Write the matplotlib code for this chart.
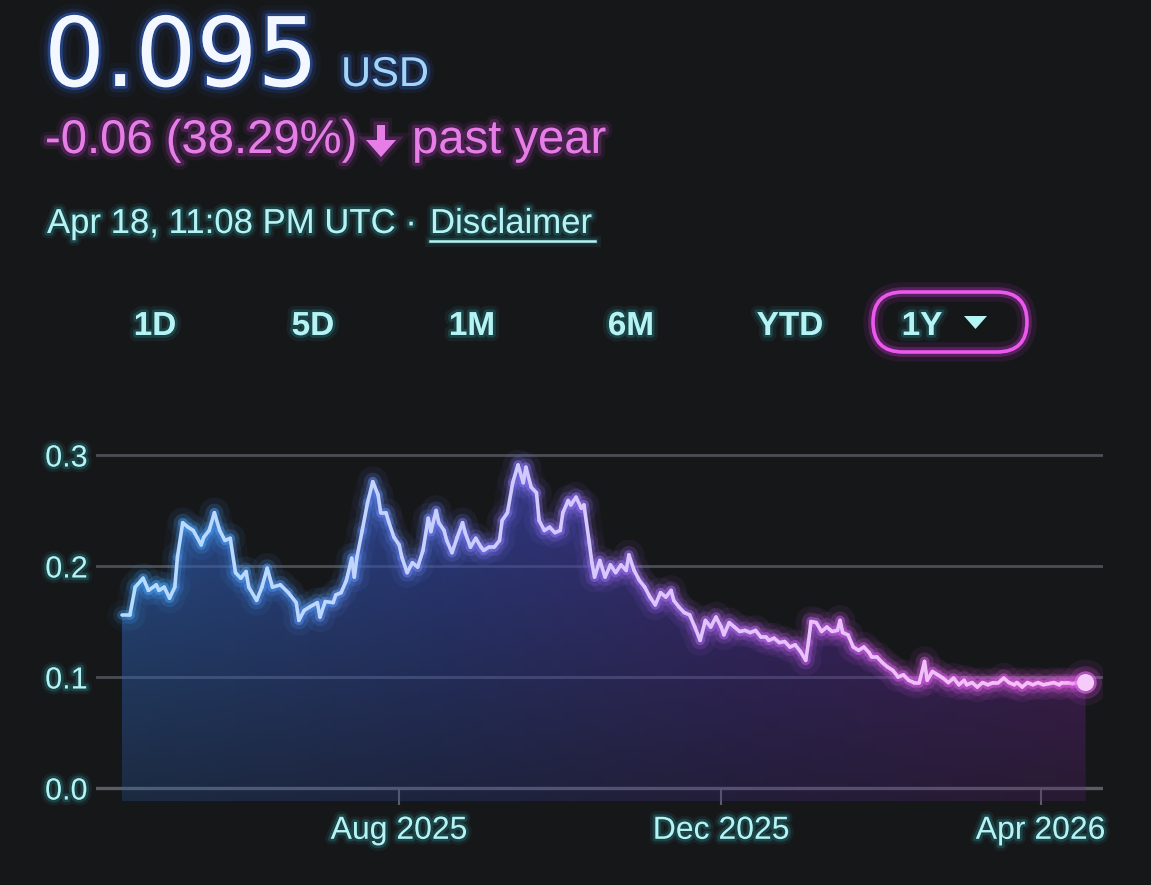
import numpy as np
import matplotlib
matplotlib.use('Agg')
import matplotlib.pyplot as plt
import matplotlib.dates as mdates
import matplotlib.patheffects as pe
from matplotlib.collections import LineCollection
from matplotlib.colors import LinearSegmentedColormap
from matplotlib.patches import FancyBboxPatch, Polygon

# price history (one year, USD)
dates = [
    '2025-04-18', '2025-04-21', '2025-04-23', '2025-04-26', '2025-04-28', '2025-05-01', '2025-05-02',
    '2025-05-04', '2025-05-06', '2025-05-08', '2025-05-09', '2025-05-11', '2025-05-13', '2025-05-15',
    '2025-05-18', '2025-05-19', '2025-05-21', '2025-05-23', '2025-05-25', '2025-05-27', '2025-05-29',
    '2025-05-31', '2025-06-02', '2025-06-04', '2025-06-05', '2025-06-08', '2025-06-10', '2025-06-12',
    '2025-06-14', '2025-06-17', '2025-06-20', '2025-06-23', '2025-06-24', '2025-06-26', '2025-06-28',
    '2025-07-01', '2025-07-02', '2025-07-04', '2025-07-07', '2025-07-08', '2025-07-10', '2025-07-12',
    '2025-07-14', '2025-07-15', '2025-07-16', '2025-07-18', '2025-07-20', '2025-07-22', '2025-07-24',
    '2025-07-25', '2025-07-27', '2025-07-28', '2025-07-30', '2025-08-01', '2025-08-02', '2025-08-04',
    '2025-08-06', '2025-08-08', '2025-08-10', '2025-08-12', '2025-08-13', '2025-08-15', '2025-08-16',
    '2025-08-18', '2025-08-19', '2025-08-21', '2025-08-23', '2025-08-25', '2025-08-26', '2025-08-28',
    '2025-08-30', '2025-09-01', '2025-09-02', '2025-09-04', '2025-09-06', '2025-09-08', '2025-09-09',
    '2025-09-11', '2025-09-13', '2025-09-15', '2025-09-17', '2025-09-18', '2025-09-20', '2025-09-22',
    '2025-09-23', '2025-09-25', '2025-09-27', '2025-09-29', '2025-10-01', '2025-10-02', '2025-10-04',
    '2025-10-05', '2025-10-07', '2025-10-09', '2025-10-10', '2025-10-12', '2025-10-13', '2025-10-14',
    '2025-10-16', '2025-10-18', '2025-10-20', '2025-10-22', '2025-10-24', '2025-10-26', '2025-10-27',
    '2025-10-29', '2025-10-31', '2025-11-02', '2025-11-04', '2025-11-06', '2025-11-08', '2025-11-10',
    '2025-11-12', '2025-11-13', '2025-11-15', '2025-11-17', '2025-11-19', '2025-11-21', '2025-11-23',
    '2025-11-25', '2025-11-27', '2025-11-29', '2025-12-01', '2025-12-02', '2025-12-04', '2025-12-06',
    '2025-12-08', '2025-12-10', '2025-12-12', '2025-12-14', '2025-12-16', '2025-12-18', '2025-12-19',
    '2025-12-21', '2025-12-23', '2025-12-25', '2025-12-27', '2025-12-29', '2025-12-31', '2026-01-02',
    '2026-01-03', '2026-01-04', '2026-01-06', '2026-01-08', '2026-01-10', '2026-01-12', '2026-01-14',
    '2026-01-15', '2026-01-16', '2026-01-18', '2026-01-20', '2026-01-22', '2026-01-24', '2026-01-26',
    '2026-01-27', '2026-01-29', '2026-01-31', '2026-02-02', '2026-02-04', '2026-02-06', '2026-02-08',
    '2026-02-10', '2026-02-12', '2026-02-14', '2026-02-16', '2026-02-17', '2026-02-19', '2026-02-21',
    '2026-02-23', '2026-02-25', '2026-02-27', '2026-03-01', '2026-03-03', '2026-03-04', '2026-03-06',
    '2026-03-08', '2026-03-10', '2026-03-12', '2026-03-14', '2026-03-16', '2026-03-18', '2026-03-20',
    '2026-03-22', '2026-03-23', '2026-03-25', '2026-03-27', '2026-03-29', '2026-03-31', '2026-04-02',
    '2026-04-04', '2026-04-06', '2026-04-08', '2026-04-09', '2026-04-11', '2026-04-13', '2026-04-15',
    '2026-04-18',
]
prices = [
    0.156, 0.156, 0.181, 0.189, 0.178, 0.183, 0.178,
    0.181, 0.171, 0.181, 0.208, 0.239, 0.235, 0.232,
    0.219, 0.226, 0.232, 0.248, 0.232, 0.223, 0.225,
    0.194, 0.189, 0.195, 0.181, 0.169, 0.181, 0.198,
    0.181, 0.183, 0.176, 0.167, 0.151, 0.160, 0.163,
    0.167, 0.154, 0.168, 0.167, 0.174, 0.176, 0.187,
    0.207, 0.190, 0.208, 0.232, 0.257, 0.276, 0.264,
    0.248, 0.248, 0.240, 0.226, 0.219, 0.208, 0.194,
    0.203, 0.199, 0.214, 0.243, 0.231, 0.250, 0.239,
    0.232, 0.223, 0.212, 0.226, 0.239, 0.230, 0.217,
    0.225, 0.217, 0.214, 0.217, 0.217, 0.223, 0.241,
    0.248, 0.275, 0.291, 0.275, 0.289, 0.271, 0.266,
    0.241, 0.232, 0.235, 0.230, 0.232, 0.248, 0.259,
    0.255, 0.262, 0.252, 0.255, 0.221, 0.203, 0.190,
    0.205, 0.190, 0.201, 0.194, 0.201, 0.196, 0.210,
    0.196, 0.187, 0.181, 0.172, 0.165, 0.176, 0.172,
    0.178, 0.169, 0.163, 0.158, 0.156, 0.145, 0.133,
    0.151, 0.145, 0.154, 0.145, 0.138, 0.149, 0.145,
    0.141, 0.142, 0.140, 0.142, 0.136, 0.136, 0.133,
    0.135, 0.131, 0.132, 0.127, 0.129, 0.123, 0.115,
    0.131, 0.150, 0.149, 0.141, 0.145, 0.141, 0.142,
    0.151, 0.140, 0.138, 0.127, 0.124, 0.127, 0.122,
    0.118, 0.118, 0.113, 0.109, 0.106, 0.100, 0.102,
    0.097, 0.095, 0.095, 0.114, 0.097, 0.105, 0.102,
    0.099, 0.095, 0.099, 0.093, 0.097, 0.093, 0.095,
    0.091, 0.095, 0.093, 0.095, 0.095, 0.099, 0.095,
    0.093, 0.095, 0.091, 0.095, 0.093, 0.095, 0.093,
    0.094, 0.095, 0.093, 0.095, 0.095, 0.094, 0.095,
    0.095,
]

y_ticks = [0.0, 0.1, 0.2, 0.3]
y_labels = ['0.0', '0.1', '0.2', '0.3']
x_tick_dates = ['2025-08-01', '2025-12-01', '2026-04-01']
x_labels = ['Aug 2025', 'Dec 2025', 'Apr 2026']
ranges = ['1D', '5D', '1M', '6M', 'YTD', '1Y']

BG = '#161719'
CYAN = '#b6f3f5'
PINK = '#e77ee8'
GRID = '#4a4e55'

plt.rcParams['font.family'] = ['Liberation Sans', 'DejaVu Sans']


def glow(color, widths=(10, 5), alphas=(0.08, 0.2)):
    fx = [pe.Stroke(linewidth=w, foreground=color, alpha=a) for w, a in zip(widths, alphas)]
    return fx + [pe.Normal()]


fig = plt.figure(figsize=(11.51, 8.85), dpi=100, facecolor=BG)

# header drawn in pixel coordinates
bg = fig.add_axes([0, 0, 1, 1])
bg.set_xlim(0, 1151)
bg.set_ylim(885, 0)
bg.axis('off')

bg.text(44, 86, '0.095', fontsize=69, color='#f3f7ff', va='baseline', family='DejaVu Sans',
        path_effects=glow('#3a78ff', (16, 9, 4), (0.05, 0.12, 0.35)))
bg.text(341, 86, 'USD', fontsize=30, color='#a3d6f6', va='baseline',
        path_effects=glow('#3a7cff', (10, 5), (0.08, 0.22)))

pink_fx = glow('#d448e4', (10, 5), (0.08, 0.2))
bg.text(45, 153, '-0.06 (38.29%)', fontsize=34, color=PINK, va='baseline',
        path_effects=pink_fx)
bg.add_patch(Polygon([[377, 125], [385, 125], [385, 140], [396, 140], [381, 157],
                      [366, 140], [377, 140]], closed=True, facecolor=PINK,
                     edgecolor='none', path_effects=pink_fx))
bg.text(412, 153, 'past year', fontsize=34, color=PINK, va='baseline',
        path_effects=pink_fx)

cyan_fx = glow('#30c0c8', (8, 4), (0.08, 0.2))
bg.text(47, 233, 'Apr 18, 11:08 PM UTC ·', fontsize=25, color=CYAN, va='baseline',
        path_effects=cyan_fx)
bg.text(430, 233, 'Disclaimer', fontsize=25, color=CYAN, va='baseline',
        path_effects=cyan_fx)
bg.plot([430, 595], [241, 241], color=CYAN, lw=1.8, path_effects=cyan_fx)

# range selector
range_x = [155, 313, 472, 631, 790, 922]
for lab, xc in zip(ranges, range_x):
    bg.text(xc, 335, lab, fontsize=24, fontweight='bold', color=CYAN, ha='center',
            va='baseline', path_effects=glow('#30c0c8', (9, 4), (0.08, 0.2)))
bg.add_patch(Polygon([[964, 316], [987, 316], [975.5, 329]], closed=True,
                     facecolor=CYAN, edgecolor='none'))
pill = FancyBboxPatch((873, 292), 154, 60, boxstyle='round,pad=0,rounding_size=30',
                      facecolor='none', edgecolor='#ec58ee', lw=2.6,
                      path_effects=[pe.Stroke(linewidth=14, foreground='#d030e0', alpha=0.10),
                                    pe.Stroke(linewidth=7, foreground='#e040e8', alpha=0.25),
                                    pe.Normal()])
bg.add_patch(pill)

# chart
ax = fig.add_axes([96 / 1151, (885 - 810) / 885, (1103 - 96) / 1151, 370 / 885])
ax.patch.set_alpha(0)

xnum = mdates.date2num(np.array(dates, dtype='datetime64[D]'))
y = np.array(prices)

for t in y_ticks:
    ax.axhline(t, color='#585c63' if t == 0 else GRID, lw=2.4 if t == 0 else 2, zorder=1)

# gradient area under the line
poly = ax.fill_between(xnum, y, -0.012, facecolor='none', edgecolor='none')
fill_cmap = LinearSegmentedColormap.from_list('fill', ['#2e62b4', '#3448a6', '#4c3096', '#60247e'])
nx, ny = 512, 256
img = np.zeros((ny, nx, 4))
img[..., :3] = fill_cmap(np.linspace(0, 1, nx))[None, :, :3]
img[..., 3] = np.linspace(0.75, 0.26, ny)[:, None]
im = ax.imshow(img, extent=[xnum[0], xnum[-1], -0.012, y.max()], origin='upper',
               aspect='auto', zorder=2, interpolation='bilinear')
im.set_clip_path(poly.get_paths()[0], transform=ax.transData)

# glowing gradient line
pts = np.column_stack([xnum, y])
segs = np.stack([pts[:-1], pts[1:]], axis=1)
frac = (xnum[:-1] - xnum[0]) / (xnum[-1] - xnum[0])
line_cmap = LinearSegmentedColormap.from_list(
    'line', ['#48a8ff', '#5a9cff', '#8a7cff', '#b46cf8', '#d862ee', '#ee5eea'])
cols = line_cmap(frac)
for lw, a in [(22, 0.04), (13, 0.09), (7, 0.26)]:
    c = cols.copy()
    c[:, 3] = a
    ax.add_collection(LineCollection(segs, colors=c, linewidths=lw, capstyle='round',
                                     joinstyle='round', zorder=4))
core = cols.copy()
core[:, :3] = core[:, :3] * 0.4 + 0.6
ax.add_collection(LineCollection(segs, colors=core, linewidths=2.6, capstyle='round',
                                 joinstyle='round', zorder=5))

# end point
for s, c, a in [(1100, '#e050f0', 0.08), (560, '#e050f0', 0.18), (260, '#e070f0', 0.6),
                (150, '#f6cbfa', 1.0)]:
    ax.scatter(xnum[-1], y[-1], s=s, color=c, alpha=a, edgecolors='none', zorder=6)

start = xnum[0]
ax.set_xlim(start - 9.85, start + 371.6)
ax.set_ylim(-0.0198, 0.3135)

ax.set_yticks(y_ticks)
ax.set_yticklabels(y_labels)
ax.set_xticks(mdates.date2num(np.array(x_tick_dates, dtype='datetime64[D]')))
ax.set_xticklabels(x_labels)
ax.spines['bottom'].set_position(('data', 0))
for sp in ax.spines.values():
    sp.set_visible(False)
ax.tick_params(axis='y', length=0, pad=6, labelsize=22, labelcolor=CYAN)
ax.tick_params(axis='x', length=12, width=1.5, color='#5a5e66', pad=8,
               labelsize=23, labelcolor=CYAN)
for lab in ax.get_xticklabels() + ax.get_yticklabels():
    lab.set_path_effects(cyan_fx)

fig.savefig('out.png', dpi=100, facecolor=BG)
